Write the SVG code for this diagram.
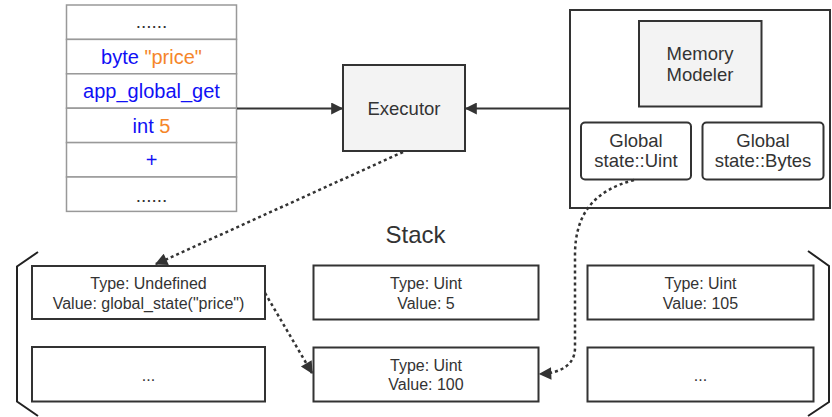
<svg xmlns="http://www.w3.org/2000/svg" width="832" height="417" viewBox="0 0 832 417">
  <style>
    text { font-family: "Liberation Sans", Arial, sans-serif; fill: #333; text-anchor: middle; }
    .op { font-size: 20px; fill: #1010f5; }
    .lit { fill: #f5862a; }
    .dots { font-size: 19px; fill: #333; }
    .cell { fill: #fff; stroke: #999; stroke-width: 1.5; }
    .box { fill: #f3f3f3; stroke: #333; stroke-width: 2; }
    .frame { fill: #fff; stroke: #333; stroke-width: 2; }
    .slot { fill: #fff; stroke: #333; stroke-width: 2; }
    .lbl { font-size: 18.5px; }
    .val { font-size: 16px; }
    .solid { fill: none; stroke: #333; stroke-width: 2; }
    .dotted { fill: none; stroke: #333; stroke-width: 2.5; stroke-dasharray: 3 3; }
    .brace { fill: none; stroke: #222; stroke-width: 2; }
  </style>
  <defs>
    <marker id="arrow" viewBox="0 0 10 10" refX="9" refY="5" markerWidth="7" markerHeight="6" markerUnits="strokeWidth" orient="auto">
      <path d="M0,0 L10,5 L0,10 Z" fill="#333"/>
    </marker>
    <marker id="arrowDot" viewBox="0 0 10 10" refX="9" refY="5" markerWidth="6" markerHeight="5" markerUnits="strokeWidth" orient="auto">
      <path d="M0,0 L10,5 L0,10 Z" fill="#333"/>
    </marker>
  </defs>

  <!-- Program listing -->
  <g id="program">
    <rect class="cell" x="66.5" y="5" width="170" height="34.4"/>
    <rect class="cell" x="66.5" y="39.4" width="170" height="34.4"/>
    <rect class="cell" x="66.5" y="73.8" width="170" height="34.4"/>
    <rect class="cell" x="66.5" y="108.2" width="170" height="34.4"/>
    <rect class="cell" x="66.5" y="142.6" width="170" height="34.4"/>
    <rect class="cell" x="66.5" y="177" width="170" height="34.4"/>
    <text class="dots" x="151.5" y="28">......</text>
    <text class="op" x="151.5" y="63.5">byte <tspan class="lit">"price"</tspan></text>
    <text class="op" x="151.5" y="98">app_global_get</text>
    <text class="op" x="151.5" y="132.5">int <tspan class="lit">5</tspan></text>
    <text class="op" x="151.5" y="167">+</text>
    <text class="dots" x="151.5" y="201.5">......</text>
  </g>

  <!-- Executor -->
  <g id="executor">
    <rect class="box" x="343" y="65" width="122" height="86"/>
    <text class="lbl" x="404" y="114.5">Executor</text>
  </g>

  <!-- Memory modeler with global state stores -->
  <g id="memory">
    <rect class="frame" x="570" y="10" width="260" height="198"/>
    <g id="memory-modeler">
      <rect class="box" x="639" y="21" width="122.5" height="85.5"/>
      <text class="lbl" x="700" y="60">Memory</text>
      <text class="lbl" x="700" y="81">Modeler</text>
    </g>
    <g id="global-uint">
      <rect class="slot" x="581" y="122.5" width="110" height="57" rx="4"/>
      <text class="lbl" x="636" y="146.5">Global</text>
      <text class="lbl" x="636" y="166.5">state::Uint</text>
    </g>
    <g id="global-bytes">
      <rect class="slot" x="702.5" y="122.5" width="121" height="57" rx="4"/>
      <text class="lbl" x="763" y="146.5">Global</text>
      <text class="lbl" x="763" y="166.5">state::Bytes</text>
    </g>
  </g>

  <!-- Stack -->
  <g id="stack">
    <text x="415.5" y="243" style="font-size:24px">Stack</text>
    <path class="brace" d="M38,252 L17,266.5 L17,401.5 L38,416"/>
    <path class="brace" d="M808,251 L829,266 L829,402 L808,416"/>
    <g id="slot-undefined">
      <rect class="slot" x="32" y="266" width="233" height="53"/>
      <text class="val" x="148.5" y="288.5">Type: Undefined</text>
      <text class="val" x="148.5" y="308.5">Value: global_state("price")</text>
    </g>
    <g id="slot-five">
      <rect class="slot" x="313.5" y="265.5" width="225" height="54"/>
      <text class="val" x="426" y="289">Type: Uint</text>
      <text class="val" x="426" y="308.5">Value: 5</text>
    </g>
    <g id="slot-sum">
      <rect class="slot" x="587.5" y="265.5" width="226" height="54"/>
      <text class="val" x="700.5" y="289">Type: Uint</text>
      <text class="val" x="700.5" y="308.5">Value: 105</text>
    </g>
    <g id="slot-more-left">
      <rect class="slot" x="32" y="347" width="233" height="54.5"/>
      <text class="val" x="148.5" y="381">...</text>
    </g>
    <g id="slot-hundred">
      <rect class="slot" x="313.5" y="347.5" width="225" height="54"/>
      <text class="val" x="426" y="370.5">Type: Uint</text>
      <text class="val" x="426" y="389.5">Value: 100</text>
    </g>
    <g id="slot-more-right">
      <rect class="slot" x="587.5" y="347.5" width="226" height="54"/>
      <text class="val" x="700.5" y="381">...</text>
    </g>
  </g>

  <!-- Connectors -->
  <g id="connectors">
    <path class="solid" d="M237,108.5 L342,108.5" marker-end="url(#arrow)"/>
    <path class="solid" d="M570,108.5 L466,108.5" marker-end="url(#arrow)"/>
    <path class="dotted" d="M403,152 L156,264" marker-end="url(#arrowDot)"/>
    <path class="dotted" d="M265,293 L312,373" marker-end="url(#arrowDot)"/>
    <path class="dotted" d="M634,180 C596,190 575,212 575,255 L575,348 C575,364 562,373 540,374" marker-end="url(#arrowDot)"/>
  </g>
</svg>
